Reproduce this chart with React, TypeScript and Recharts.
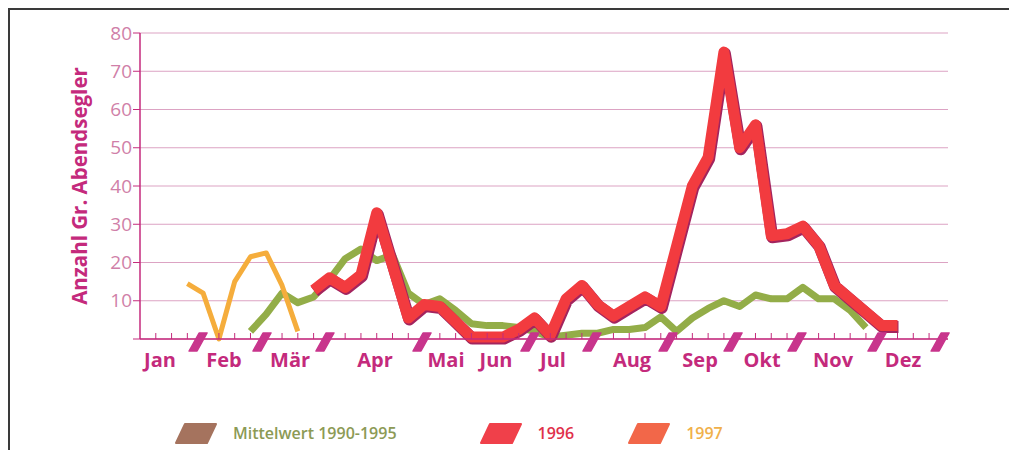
import React from "react";
import { LineChart, Line, XAxis, YAxis, CartesianGrid, Label } from "recharts";

// weekly counts (x = week of year)
const meanWeeks = [7, 8, 9, 10, 11, 12, 13, 14, 15, 16, 17, 18, 19, 20, 21, 22, 23, 24, 25, 26, 27, 28, 29, 30, 31, 32, 33, 34, 35, 36, 37, 38, 39, 40, 41, 42, 43, 44, 45, 46];
const meanValues = [2, 6.5, 12, 9.5, 11, 15.5, 21, 23.5, 20.5, 22, 12, 9, 10.5, 7.5, 4, 3.5, 3.5, 3, 2, 0.5, 1, 1.5, 1.5, 2.5, 2.5, 3, 5.8, 2, 5.5, 8, 10, 8.5, 11.5, 10.5, 10.5, 13.5, 10.5, 10.5, 7.5, 3];

const weeks1996 = [11, 12, 13, 14, 15, 17, 18, 19, 20, 21, 22, 23, 24, 25, 26, 27, 28, 29, 30, 31, 32, 33, 35, 36, 37, 38, 39, 40, 41, 42, 43, 44, 45, 46, 47, 48];
const values1996 = [12.8, 16, 13.5, 16.8, 33, 5.5, 9, 8.5, 4.5, 0.5, 0.5, 0.5, 2.5, 5.5, 1, 10.5, 14, 9, 6, 8.5, 11, 8.5, 40, 47.5, 75, 50, 56, 27, 27.5, 29.5, 24.5, 14, 10.5, 7, 3.5, 3.5];

const weeks1997 = [3, 4, 5, 6, 7, 8, 9, 10];
const values1997 = [14.5, 12, 0, 15, 21.5, 22.5, 14, 2];

const months = ["Jan", "Feb", "Mär", "Apr", "Mai", "Jun", "Jul", "Aug", "Sep", "Okt", "Nov", "Dez"];
const monthLabelWeeks = [1.27, 5.32, 9.51, 14.89, 19.39, 22.56, 26.17, 31.18, 35.49, 39.42, 43.92, 48.35];
const monthMarkWeeks = [3.68, 7.73, 11.72, 17.87, 24.71, 28.64, 33.46, 37.58, 41.63, 46.7, 50.7];
const weekTicks = [1, 2, 3, 4, 5, 6, 7, 8, 9, 10, 11, 12, 13, 14, 15, 16, 17, 18, 19, 20, 21, 22, 23, 24, 25, 26, 27, 28, 29, 30, 31, 32, 33, 34, 35, 36, 37, 38, 39, 40, 41, 42, 43, 44, 45, 46, 47, 48, 49, 50, 51];
const yTicks = [0, 10, 20, 30, 40, 50, 60, 70, 80];

const legendItems = [
  { label: "Mittelwert 1990-1995", swatch: "#a5735e", text: "#8c9a55" },
  { label: "1996", swatch: "#f0404a", text: "#e0304a" },
  { label: "1997", swatch: "#f26749", text: "#f0b04a" },
];

const toData = (w: number[], v: number[]) => w.map((x, i) => ({ w: x, v: v[i] }));
const meanData = toData(meanWeeks, meanValues);
const data1996 = toData(weeks1996, values1996);
const data1997 = toData(weeks1997, values1997);

const MAGENTA = "#c42a7c";
const FONT = "'Open Sans', 'Noto Sans', sans-serif";

const XTick = (props: any) => {
  const { x, y, payload } = props;
  const v = payload.value;
  const mi = monthLabelWeeks.indexOf(v);
  if (mi >= 0) {
    return (
      <text x={x} y={y + 28} textAnchor="middle" fill={MAGENTA} fontSize={20} fontWeight={700} fontFamily={FONT}>
        {months[mi]}
      </text>
    );
  }
  if (monthMarkWeeks.indexOf(v) >= 0) {
    const cy = y + 3;
    return (
      <polygon
        points={`${x - 9},${cy + 9} ${x - 1},${cy + 9} ${x + 9},${cy - 9} ${x + 1},${cy - 9}`}
        fill="#c8358c"
        stroke="#c8358c"
        strokeLinejoin="round"
        strokeWidth={1.5}
      />
    );
  }
  return <line x1={x} x2={x} y1={y} y2={y - 6} stroke={MAGENTA} strokeWidth={1} />;
};

export default function App() {
  return (
    <div
      style={{
        position: "relative",
        width: 1009,
        height: 442,
        borderTop: "2px solid #3a3a3a",
        borderLeft: "2px solid #3a3a3a",
        background: "#fff",
        boxSizing: "border-box",
        overflow: "hidden",
      }}
    >
      <LineChart width={1000} height={374} margin={{ top: 23, right: 62, bottom: 5, left: 70 }}>
        <CartesianGrid vertical={false} stroke="#dca3c3" strokeWidth={1} />
        <XAxis
          dataKey="w"
          type="number"
          domain={[0, 51.2]}
          ticks={[...weekTicks, ...monthMarkWeeks, ...monthLabelWeeks]}
          interval={0}
          height={40}
          tickLine={false}
          tickSize={0}
          tickMargin={0}
          axisLine={{ stroke: MAGENTA, strokeWidth: 1.5 }}
          tick={<XTick />}
          allowDataOverflow
        />
        <YAxis
          domain={[0, 80]}
          ticks={yTicks}
          interval={0}
          width={60}
          tickFormatter={(v: number) => (v === 0 ? "" : String(v))}
          axisLine={{ stroke: MAGENTA, strokeWidth: 1.5 }}
          tickLine={{ stroke: MAGENTA }}
          tickSize={7}
          tickMargin={1}
          tick={{ fill: "#d07fa8", fontSize: 19, fontFamily: FONT }}
        >
          <Label
            value="Anzahl Gr. Abendsegler"
            angle={-90}
            position="insideLeft"
            offset={0}
            style={{ textAnchor: "middle", fill: MAGENTA, fontSize: 20.5, fontWeight: 700, fontFamily: FONT }}
          />
        </YAxis>
        <Line data={meanData} dataKey="v" type="linear" stroke="#93ad48" strokeWidth={7} strokeLinejoin="round" dot={false} activeDot={false} isAnimationActive={false} />
        <Line data={data1997} dataKey="v" type="linear" stroke="#f5ad3c" strokeWidth={5} strokeLinejoin="round" dot={false} activeDot={false} isAnimationActive={false} />
        <Line data={data1996} dataKey="v" type="linear" stroke="#a3245e" strokeWidth={12} strokeLinejoin="round" dot={false} activeDot={false} isAnimationActive={false} transform="translate(1,1.5)" />
        <Line data={data1996} dataKey="v" type="linear" stroke="#f23b3f" strokeWidth={11} strokeLinejoin="round" dot={false} activeDot={false} isAnimationActive={false} />
      </LineChart>
      <div style={{ position: "absolute", top: 412, left: 165, display: "flex", alignItems: "center", fontFamily: FONT }}>
        {legendItems.map((it, i) => (
          <div key={it.label} style={{ display: "flex", alignItems: "center", marginRight: i === 0 ? 83 : 54 }}>
            <svg width={42} height={21} style={{ marginRight: 16 }}>
              <polygon points="10,1 41,1 32,20 1,20" fill={it.swatch} stroke={it.swatch} strokeLinejoin="round" strokeWidth={2} />
            </svg>
            <span style={{ color: it.text, fontSize: 16, fontWeight: 600 }}>{it.label}</span>
          </div>
        ))}
      </div>
    </div>
  );
}
